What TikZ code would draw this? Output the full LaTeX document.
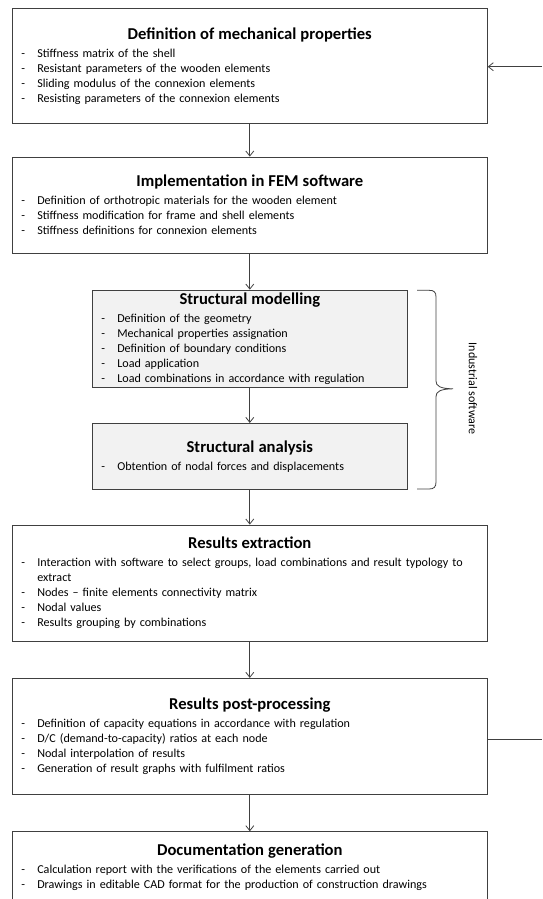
\documentclass[tikz,border=0pt]{standalone}
\usepackage{fontspec}
\setmainfont{Carlito}
\usetikzlibrary{arrows.meta}
\definecolor{bordc}{HTML}{404040}
\definecolor{connc}{HTML}{404040}
\definecolor{grayfill}{HTML}{F2F2F2}
\newcommand\titlefont{\fontsize{16.6}{18}\selectfont\bfseries}
\newcommand\itemfont{\fontsize{12.1}{15}\selectfont}
\newcommand\btitle[1]{\vspace*{3pt}{\centering\titlefont #1\par}}
\newcommand\itm[1]{\par\noindent\hangindent=25pt\hangafter=1\makebox[25pt][l]{\hspace{9pt}-}#1\par}
\begin{document}
\begin{tikzpicture}[x=1pt,y=-1pt,
  procbox/.style={draw=bordc, line width=0.8pt, fill=white, inner xsep=0pt, inner ysep=0pt,
    text width=#1, minimum width=#1, align=left, font=\itemfont},
  graybox/.style={procbox=#1, fill=grayfill},
  conn/.style={draw=connc, line width=0.8pt, -{Straight Barb[length=5pt,width=8pt]}},
  plainline/.style={draw=connc, line width=0.8pt},
  bracestyle/.style={draw=connc, line width=0.8pt},
  sidelabel/.style={font=\fontsize{12}{14}\selectfont, rotate=-90, inner sep=0pt}]
\useasboundingbox (0,0) rectangle (542,899);

\node[procbox=475pt, minimum height=115pt] (b1) at (249.8,65.8) {%
\btitle{Definition of mechanical properties}%
\itm{Stiffness matrix of the shell}%
\itm{Resistant parameters of the wooden elements}%
\itm{Sliding modulus of the connexion elements}%
\itm{Resisting parameters of the connexion elements}};

\node[procbox=475pt, minimum height=96pt] (b2) at (249.8,205) {%
\btitle{Implementation in FEM software}%
\itm{Definition of orthotropic materials for the wooden element}%
\itm{Stiffness modification for frame and shell elements}%
\itm{Stiffness definitions for connexion elements}};

\node[graybox=315pt, minimum height=97.5pt] (b3) at (249.8,338.8) {%
\btitle{Structural modelling}%
\itm{Definition of the geometry}%
\itm{Mechanical properties assignation}%
\itm{Definition of boundary conditions}%
\itm{Load application}%
\itm{Load combinations in accordance with regulation}};

\node[graybox=315pt, minimum height=65.7pt] (b4) at (249.8,456.2) {%
\btitle{Structural analysis}%
\itm{Obtention of nodal forces and displacements}};

\node[procbox=475pt, minimum height=116pt] (b5) at (249.8,583) {%
\btitle{Results extraction}%
\itm{Interaction with software to select groups, load combinations and result typology to\newline extract}%
\itm{Nodes – finite elements connectivity matrix}%
\itm{Nodal values}%
\itm{Results grouping by combinations}};

\node[procbox=475pt, minimum height=116.2pt] (b6) at (249.8,736.4) {%
\btitle{Results post-processing}%
\itm{Definition of capacity equations in accordance with regulation}%
\itm{D/C (demand-to-capacity) ratios at each node}%
\itm{Nodal interpolation of results}%
\itm{Generation of result graphs with fulfilment ratios}};

\node[procbox=475pt, minimum height=70pt] (b7) at (249.8,866.7) {%
\btitle{Documentation generation}%
\itm{Calculation report with the verifications of the elements carried out}%
\itm{Drawings in editable CAD format for the production of construction drawings}};

% vertical connectors
\draw[conn] (b1.south) -- (b2.north);
\draw[conn] (b2.south) -- (b3.north);
\draw[conn] (b3.south) -- (b4.north);
\draw[conn] (b4.south) -- (b5.north);
\draw[conn] (b5.south) -- (b6.north);
\draw[conn] (b6.south) -- (b7.north);

% feedback loop ends (leaving the picture on the right)
\coordinate (fb1) at (542,66.7);
\coordinate (fb6) at (542,739.5);
\draw[conn] (fb1) -- (fb1 -| b1.east);
\draw[plainline] (fb6 -| b6.east) -- (fb6);

% brace
\draw[bracestyle] (417,290.3) -- (429,290.3)
  .. controls (434,290.3) and (436,292) .. (436,297)
  -- (436,381)
  .. controls (436,386) and (440,388.6) .. (453,388.8)
  .. controls (440,389) and (436,391.6) .. (436,396.6)
  -- (436,482)
  .. controls (436,487) and (434,489) .. (429,489)
  -- (417,489);
\node[sidelabel] (lbl) at (473,388.6) {Industrial software};
\end{tikzpicture}
\end{document}
